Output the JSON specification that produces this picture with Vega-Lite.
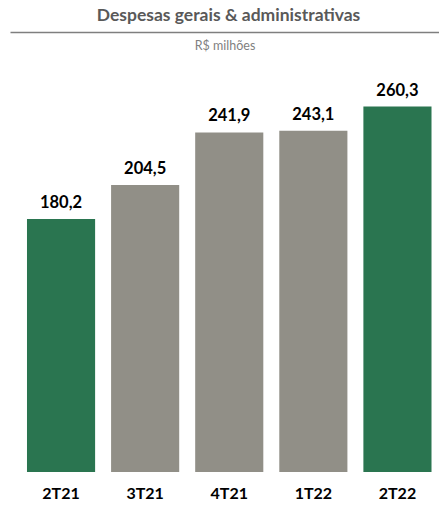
{
  "$schema": "https://vega.github.io/schema/vega-lite/v6.json",
  "width": 429,
  "height": 440,
  "autosize": "none",
  "padding": {"left": 10, "top": 32, "right": 0, "bottom": 34},
  "background": "white",
  "config": {
    "view": {"stroke": null},
    "font": "Lato",
    "locale": {"number": {"decimal": ",", "thousands": ".", "grouping": [3], "currency": ["R$", ""]}}
  },
  "title": {
    "text": "Despesas gerais & administrativas",
    "anchor": "middle",
    "offset": 8,
    "dx": 4,
    "fontSize": 17.5,
    "fontWeight": "bold",
    "color": "#595959",
    "font": "Lato"
  },
  "data": {
    "values": [
      {"periodo": "2T21", "valor": 180.2, "destaque": "sim"},
      {"periodo": "3T21", "valor": 204.5, "destaque": "nao"},
      {"periodo": "4T21", "valor": 241.9, "destaque": "nao"},
      {"periodo": "1T22", "valor": 243.1, "destaque": "nao"},
      {"periodo": "2T22", "valor": 260.3, "destaque": "sim"}
    ]
  },
  "encoding": {
    "x": {
      "field": "periodo",
      "type": "nominal",
      "sort": null,
      "scale": {"paddingInner": 0.19, "paddingOuter": 0.1455, "align": 0.694}
    },
    "y": {
      "field": "valor",
      "type": "quantitative",
      "scale": {"domain": [0, 313.4], "nice": false, "zero": true},
      "axis": null
    }
  },
  "layer": [
    {
      "mark": {"type": "bar"},
      "encoding": {
        "x": {
          "field": "periodo",
          "type": "nominal",
          "sort": null,
          "axis": {
            "orient": "bottom",
            "title": null,
            "domain": false,
            "ticks": false,
            "labelAngle": 0,
            "labelPadding": 13,
            "labelFontSize": 16,
            "labelFontWeight": "bold",
            "labelColor": "#000000",
            "labelFont": "Lato"
          }
        },
        "color": {
          "field": "destaque",
          "type": "nominal",
          "scale": {"domain": ["sim", "nao"], "range": ["#2a7550", "#918f87"]},
          "legend": null
        }
      }
    },
    {
      "mark": {"type": "text", "baseline": "bottom", "dy": -8, "fontSize": 16.5, "fontWeight": "bold", "color": "#000000", "font": "Lato"},
      "encoding": {
        "x": {
          "field": "periodo",
          "type": "nominal",
          "sort": null,
          "axis": {
            "orient": "top",
            "labels": false,
            "ticks": false,
            "domain": true,
            "domainColor": "#7f7f7f",
            "domainWidth": 1.5,
            "title": "R$ milhões",
            "titleY": 20,
            "titleFontSize": 12.5,
            "titleFontWeight": "normal",
            "titleColor": "#7f7f7f",
            "titleFont": "Lato",
            "titleBaseline": "bottom"
          }
        },
        "text": {"field": "valor", "type": "quantitative", "format": ".1f"}
      }
    }
  ],
  "resolve": {"axis": {"x": "independent"}}
}
